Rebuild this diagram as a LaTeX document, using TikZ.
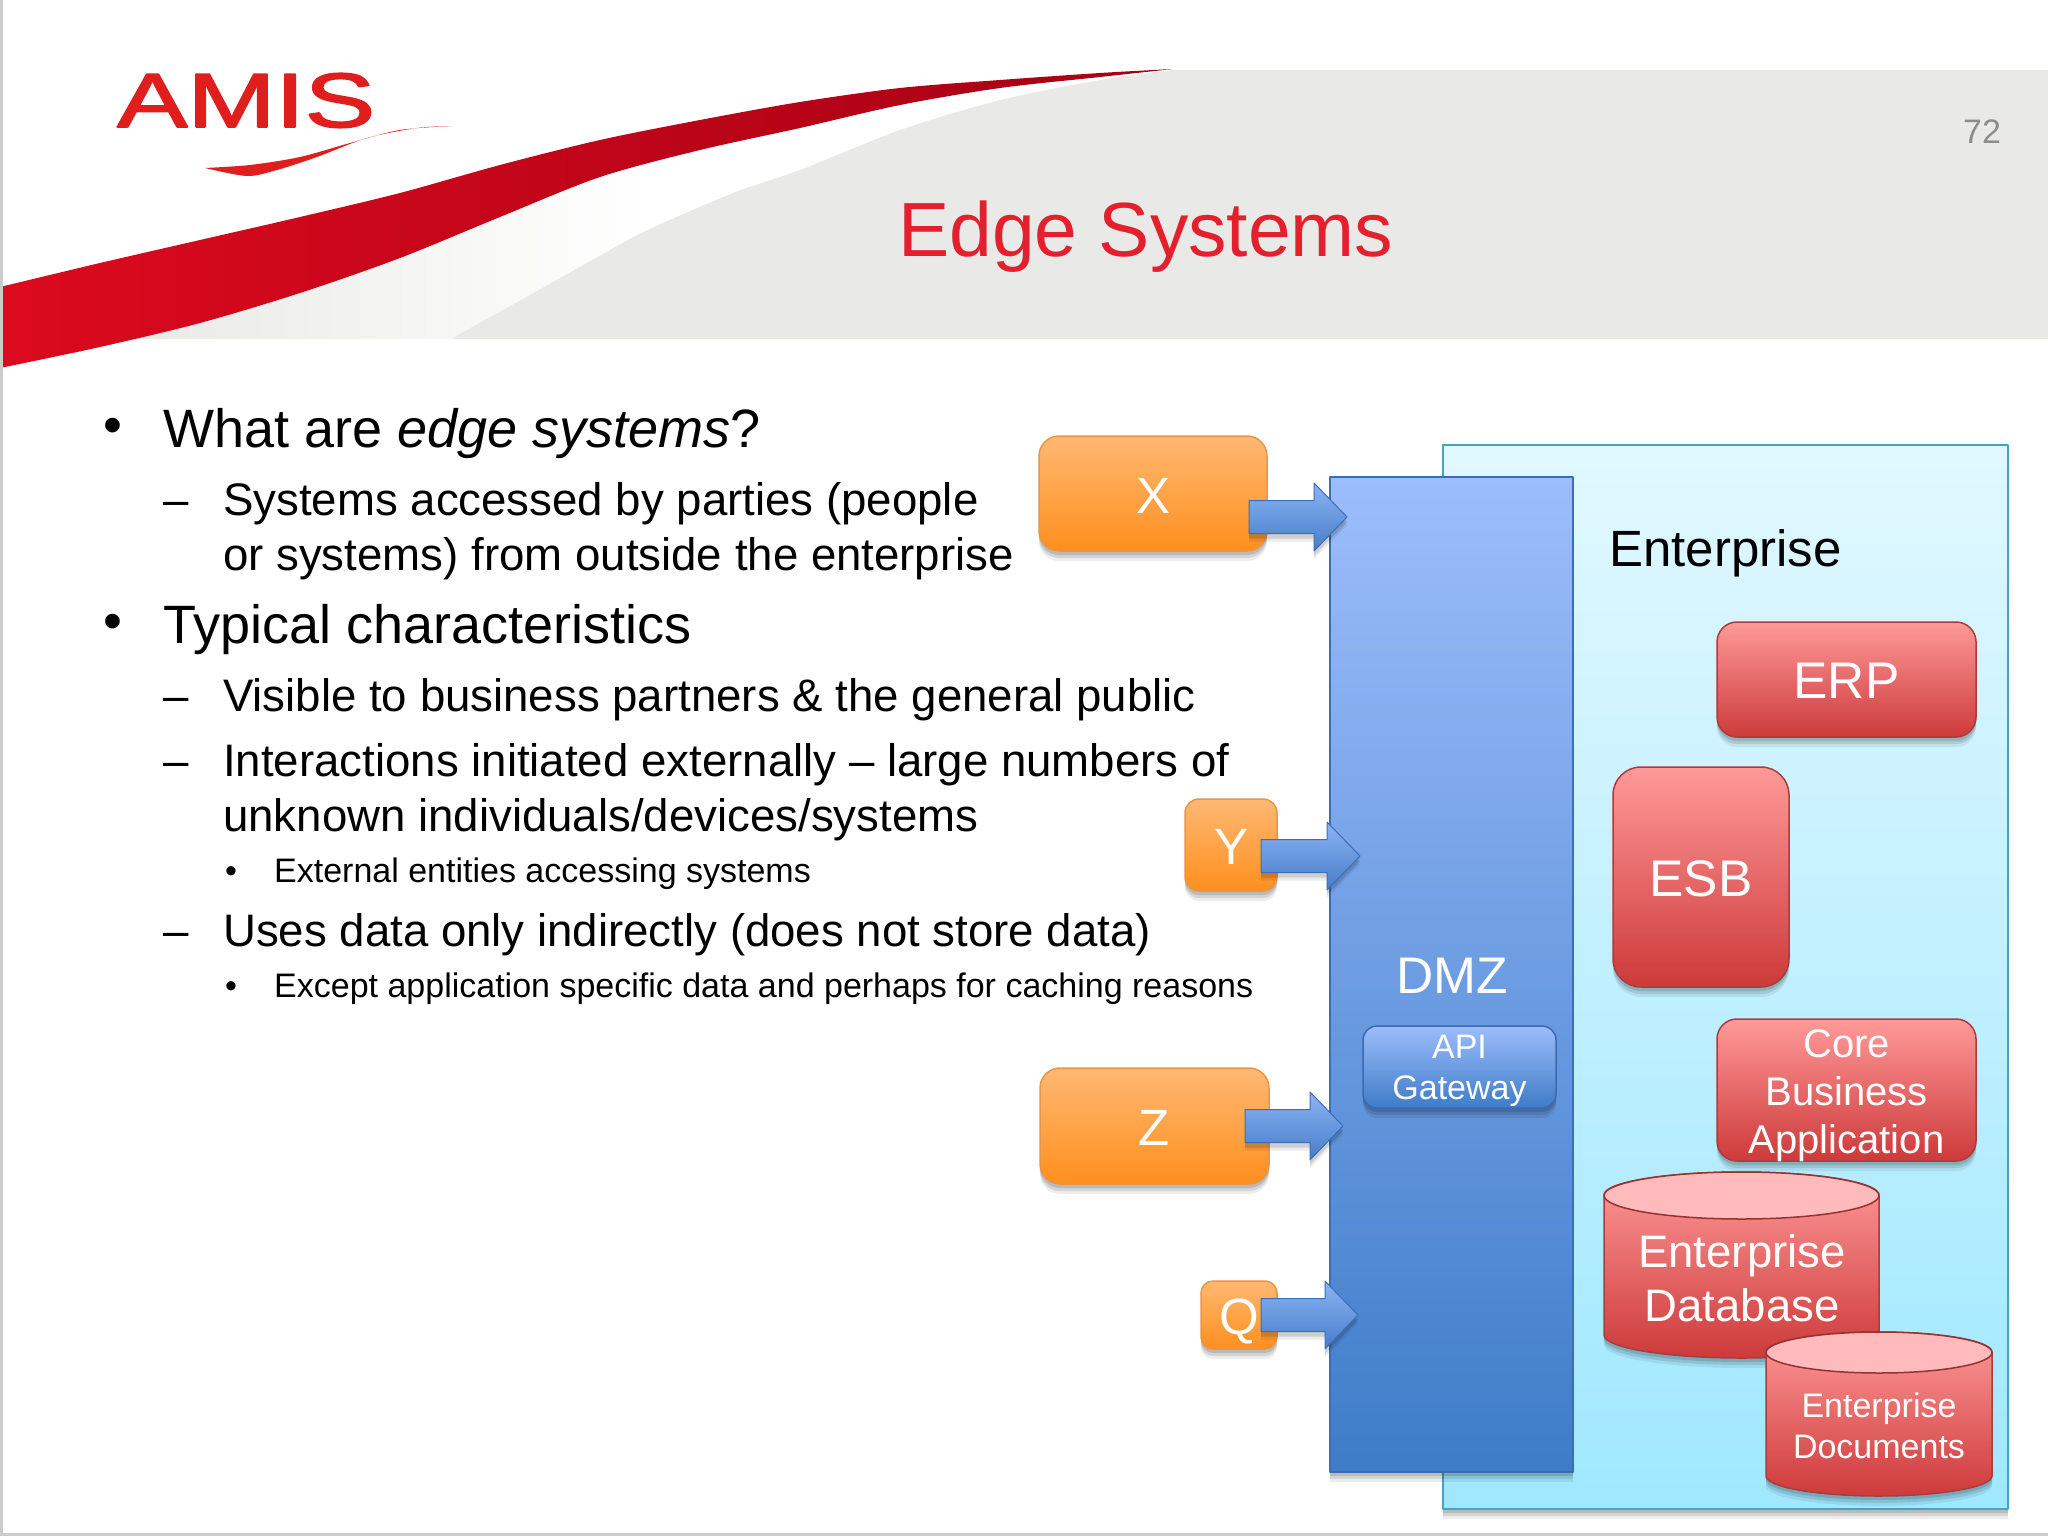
\documentclass[tikz,border=0pt]{standalone}
\usepackage{fontspec}
\setmainfont{Liberation Sans}
\newfontfamily\logofont[FakeBold=2]{Liberation Sans}
\usetikzlibrary{shadows}
\definecolor{bandgrey}{HTML}{E9E9E7}
\definecolor{amisred}{HTML}{DC0A1E}
\definecolor{logored}{HTML}{DE1F1E}
\definecolor{titlered}{HTML}{E2202E}
\newcommand{\sz}[1]{\fontsize{#1}{#1}\selectfont}
\newcommand{\flowarrow}[2]{\path[flowline] ([shift={(0,-16.5)}]#1) -- ([shift={(-33,-16.5)}]#2) -- ([shift={(-33,-34)}]#2) -- (#2) -- ([shift={(-33,34)}]#2) -- ([shift={(-33,16.5)}]#2) -- ([shift={(0,16.5)}]#1) -- cycle;}
\begin{document}
\begin{tikzpicture}[x=1pt,y=-1pt,line join=round,line cap=round,
	softshadow/.style={drop shadow={shadow xshift=0pt,shadow yshift=-10pt,opacity=.07,fill=black},drop shadow={shadow xshift=0pt,shadow yshift=-7pt,opacity=.1,fill=black},drop shadow={shadow xshift=0pt,shadow yshift=-4pt,opacity=.12,fill=black}},
	edgebox/.style={rounded corners=20pt,draw={rgb,255:red,232;green,150;blue,70},line width=1.5pt,top color={rgb,255:red,255;green,184;blue,115},bottom color={rgb,255:red,255;green,143;blue,30},softshadow,text={rgb,255:red,253;green,253;blue,253},font=\sz{51},inner sep=0pt,anchor=center,text height=39pt,text depth=0pt},
	appbox/.style={rounded corners=20pt,draw={rgb,255:red,170;green,60;blue,60},line width=1.5pt,top color={rgb,255:red,255;green,153;blue,153},bottom color={rgb,255:red,205;green,58;blue,58},softshadow,text={rgb,255:red,253;green,253;blue,253},font=\sz{51.5},inner sep=0pt,align=center,text height=38pt,text depth=0pt},
	dbbody/.style={draw={rgb,255:red,170;green,60;blue,60},line width=1.5pt,top color={rgb,255:red,255;green,153;blue,153},bottom color={rgb,255:red,205;green,58;blue,58},softshadow},
	dbtop/.style={draw={rgb,255:red,150;green,50;blue,50},line width=1.5pt,fill={rgb,255:red,255;green,186;blue,188}},
	whitelabel/.style={text={rgb,255:red,253;green,253;blue,253},inner sep=0pt,align=center},
	flowline/.style={draw={rgb,255:red,60;green,110;blue,185},line width=1pt,top color={rgb,255:red,140;green,180;blue,245},bottom color={rgb,255:red,70;green,125;blue,200},drop shadow={shadow xshift=0pt,shadow yshift=-8pt,opacity=.08,fill=black},drop shadow={shadow xshift=0pt,shadow yshift=-5pt,opacity=.12,fill=black}},
	lvlone/.style={anchor=base west,inner sep=0pt,font=\sz{54}},
	lvltwo/.style={anchor=base west,inner sep=0pt,font=\sz{45.6}},
	lvlthree/.style={anchor=base west,inner sep=0pt,font=\sz{34}}]
	\useasboundingbox (0,0) rectangle (2048,1536);
	\fill[white] (0,0) rectangle (2048,1536);
	\fill[bandgrey] (0,70) rectangle (2048,339);
	\fill[white] (1173,70) -- plot[smooth] coordinates {(1173,70) (1100,80) (1000,100) (900,130) (800,170) (733,193) (633,237) (533,293) (450,339)} -- (0,339) -- (0,60) -- (1173,60) -- cycle;
	\shade[left color=bandgrey,middle color=bandgrey,right color=white] (130,339) -- plot[smooth] coordinates {(130,339) (200,323) (300,293) (400,258) (500,217) (600,177) (650,163)} -- (650,227) -- (633,237) -- (533,293) -- (450,339) -- cycle;
	\shade[left color=amisred,middle color={rgb,255:red,220;green,4;blue,22},right color={rgb,255:red,165;green,0;blue,20}] plot[smooth] coordinates {(0,287) (100,263) (200,240) (300,217) (400,193) (500,165) (600,140) (700,120) (800,102) (900,88) (1000,80) (1100,73) (1173,69)} -- plot[smooth] coordinates {(1173,69) (1100,77) (1000,88) (900,105) (800,128) (700,150) (600,177) (500,217) (400,258) (300,293) (200,323) (100,347) (0,368)} -- cycle;
	\fill[logored] plot[smooth] coordinates {(452,126) (400,130) (350,143) (300,157) (250,165) (205,168)} -- plot[smooth] coordinates {(205,168) (247,176) (277,170) (317,157) (367,138) (417,128) (452,126)} -- cycle;
	\fill[gray!40] (0,0) rectangle (2.5,1536);
	\fill[gray!40] (0,1533) rectangle (2048,1536);
	\node[anchor=base west,inner sep=0pt,text=logored,font=\logofont\sz{77}] (logo) at (117,127) {\scalebox{1.37}[1]{AMIS}};
	\node[anchor=base west,inner sep=0pt,text={rgb,255:red,140;green,140;blue,140},font=\sz{34}] (pagenum) at (1963,144) {72};
	\node[anchor=base west,inner sep=0pt,text=titlered,font=\sz{76.8}] (title) at (898,256) {Edge Systems};
	\node[lvlone] (bulleta) at (103,443) {•};
	\node[lvlone] (linea) at (163,447) {What are \textit{edge systems}?};
	\node[lvltwo] (dashb) at (163,515) {–};
	\node[lvltwo] (lineb) at (223,515) {Systems accessed by parties (people};
	\node[lvltwo] (linec) at (223,570) {or systems) from outside the enterprise};
	\node[lvlone] (bulletd) at (103,639) {•};
	\node[lvlone] (lined) at (163,643) {Typical characteristics};
	\node[lvltwo] (dashe) at (163,711) {–};
	\node[lvltwo] (linee) at (223,711) {Visible to business partners \& the general public};
	\node[lvltwo] (dashf) at (163,776) {–};
	\node[lvltwo] (linef) at (223,776) {Interactions initiated externally – large numbers of};
	\node[lvltwo] (lineg) at (223,831) {unknown individuals/devices/systems};
	\node[lvlthree] (bulleth) at (225,882) {•};
	\node[lvlthree] (lineh) at (274,882) {External entities accessing systems};
	\node[lvltwo] (dashi) at (163,946) {–};
	\node[lvltwo] (linei) at (223,946) {Uses data only indirectly (does not store data)};
	\node[lvlthree] (bulletj) at (225,997) {•};
	\node[lvlthree] (linej) at (274,997) {Except application specific data and perhaps for caching reasons};
	\draw[draw={rgb,255:red,70;green,165;blue,190},line width=2pt,top color={rgb,255:red,225;green,248;blue,255},bottom color={rgb,255:red,160;green,232;blue,255},softshadow] (1442.5,445) rectangle (2008,1509);
	\draw[draw={rgb,255:red,60;green,110;blue,180},line width=1.5pt,top color={rgb,255:red,156;green,189;blue,251},bottom color={rgb,255:red,62;green,124;blue,200},softshadow] (1330,477) rectangle (1573,1472);
	\node[anchor=base west,inner sep=0pt,font=\sz{51}] (enterprise) at (1609,566) {Enterprise};
	\node[whitelabel,font=\sz{51.5}] (dmz) at (1452,976) {DMZ};
	\node[rounded corners=14pt,draw={rgb,255:red,60;green,105;blue,175},line width=1.5pt,top color={rgb,255:red,156;green,189;blue,251},bottom color={rgb,255:red,62;green,124;blue,200},softshadow,whitelabel,font=\sz{34},minimum width=193pt,minimum height=82pt,text height=65pt,text depth=0pt] (api) at (1459.5,1067) {API\\[7pt]Gateway};
	\node[appbox,minimum width=259pt,minimum height=115pt] (erp) at (1846.5,679.5) {ERP};
	\node[appbox,minimum width=176pt,minimum height=220pt,rounded corners=28pt] (esb) at (1701,877) {ESB};
	\node[appbox,font=\sz{40},minimum width=259pt,minimum height=142pt,text height=126pt,text depth=0pt] (core) at (1846.5,1090) {Core\\[8pt]Business\\[8pt]Application};
	\draw[dbbody] (1604,1195) -- (1604,1335) arc[start angle=180,end angle=0,x radius=137.5,y radius=23] -- (1879,1195) arc[start angle=0,end angle=-180,x radius=137.5,y radius=23] -- cycle;
	\draw[dbtop] (1741.5,1195.5) ellipse[x radius=137.5,y radius=23.5];
	\node[whitelabel,font=\sz{45.5}] (database) at (1742,1278) {Enterprise\\[9pt]Database};
	\draw[dbbody] (1766,1352) -- (1766,1476) arc[start angle=180,end angle=0,x radius=113,y radius=20] -- (1992,1352) arc[start angle=0,end angle=-180,x radius=113,y radius=20] -- cycle;
	\draw[dbtop] (1879,1352.5) ellipse[x radius=113,y radius=20.5];
	\node[whitelabel,font=\sz{34}] (documents) at (1879,1426) {Enterprise\\[7pt]Documents};
	\node[edgebox,minimum width=228pt,minimum height=115pt] (x) at (1153,493.5) {X};
	\node[edgebox,minimum width=92pt,minimum height=92pt,rounded corners=14pt] (y) at (1231,845) {Y};
	\node[edgebox,minimum width=229pt,minimum height=116pt] (z) at (1154.5,1126) {Z};
	\node[edgebox,minimum width=76pt,minimum height=68pt,rounded corners=12pt] (q) at (1239,1315) {Q};
	\coordinate (xstart) at (1249,517);
	\coordinate (xend) at (1347,517);
	\coordinate (ystart) at (1261,856);
	\coordinate (yend) at (1360,856);
	\coordinate (zstart) at (1245,1126);
	\coordinate (zend) at (1343,1126);
	\coordinate (qstart) at (1261,1315);
	\coordinate (qend) at (1358,1315);
	\flowarrow{xstart}{xend}
	\flowarrow{ystart}{yend}
	\flowarrow{zstart}{zend}
	\flowarrow{qstart}{qend}
\end{tikzpicture}
\end{document}
